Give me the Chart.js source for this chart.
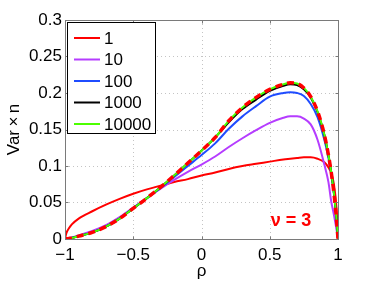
<!DOCTYPE html>
<html><head><meta charset="utf-8">
<script src="https://cdn.jsdelivr.net/npm/chart.js@4/dist/chart.umd.min.js"></script>
<style>html,body{margin:0;padding:0;background:#fff}#w{width:374px;height:281px}</style>
</head><body><div id="w"><canvas id="c" width="374" height="281"></canvas></div>
<script>
const rho = [-1,-0.99,-0.97,-0.95,-0.9,-0.8,-0.7,-0.6,-0.5,-0.4,-0.3,-0.2,-0.1,0,0.1,0.2,0.3,0.4,0.5,0.6,0.65,0.7,0.75,0.8,0.85,0.9,0.93,0.95,0.97,0.99,1];
const n1     = [0,0.008,0.015,0.02,0.028,0.038,0.047,0.055,0.062,0.068,0.073,0.078,0.082,0.087,0.091,0.096,0.1,0.103,0.106,0.109,0.11,0.111,0.112,0.112,0.11,0.105,0.098,0.09,0.075,0.04,0];
const n10    = [0,0.0004,0.001,0.002,0.005,0.011,0.019,0.03,0.043,0.056,0.069,0.081,0.092,0.102,0.113,0.126,0.138,0.149,0.159,0.166,0.168,0.168,0.165,0.157,0.136,0.102,0.078,0.052,0.033,0.012,0];
const n100   = [0,0.0002,0.0008,0.0016,0.004,0.009,0.017,0.028,0.042,0.056,0.07,0.085,0.1,0.115,0.131,0.151,0.168,0.182,0.195,0.2,0.201,0.2,0.196,0.185,0.167,0.136,0.111,0.09,0.062,0.025,0];
const n1000  = [0,0.0002,0.0008,0.0015,0.004,0.009,0.017,0.028,0.042,0.056,0.071,0.087,0.104,0.121,0.139,0.16,0.178,0.191,0.203,0.21,0.212,0.211,0.205,0.194,0.174,0.143,0.115,0.092,0.063,0.025,0];
const n10000 = [0,0.0002,0.0008,0.0015,0.004,0.009,0.017,0.028,0.042,0.056,0.071,0.087,0.104,0.121,0.139,0.162,0.18,0.194,0.205,0.212,0.214,0.213,0.207,0.195,0.175,0.143,0.115,0.092,0.063,0.025,0];
const theory = [0,0.0002,0.0008,0.0015,0.004,0.009,0.017,0.028,0.042,0.056,0.071,0.087,0.104,0.121,0.139,0.162,0.18,0.194,0.205,0.212,0.214,0.213,0.207,0.195,0.175,0.143,0.115,0.092,0.063,0.025,0];
const seriesLabels = ['1','10','100','1000','10000'];
const xTicks = [-1,-0.5,0,0.5,1];
const xTickLabels = ['\u22121','\u22120.5','0','0.5','1'];
const yTicks = [0,0.05,0.1,0.15,0.2,0.25,0.3];
const yTickLabels = ['0','0.05','0.1','0.15','0.2','0.25','0.3'];
const annotText = '\u03bd = 3';
const annotPos = [0.656, 0.025];

const FONT = '"Liberation Sans", Arial, Helvetica, sans-serif';
const pts = arr => rho.map((x,i)=>({x:x,y:arr[i]}));
const colors = ['#ff0000','#b53cff','#1f4cff','#000000','#4cff00'];
const vals = [n1,n10,n100,n1000,n10000];
const datasets = vals.map((v,i)=>({label:seriesLabels[i],data:pts(v),borderColor:colors[i],borderWidth:2,pointRadius:0,fill:false,cubicInterpolationMode:'monotone',order:5-i}));
datasets.push({label:'theory',data:pts(theory),borderColor:'#ff0000',borderWidth:3.5,borderDash:[7,5],pointRadius:0,fill:false,cubicInterpolationMode:'monotone',order:-1});

const deco = {
  id:'deco',
  beforeDatasetsDraw(chart){
    const {ctx,chartArea:a,scales:{x,y}} = chart;
    ctx.save();
    ctx.strokeStyle='#c4c4c4'; ctx.lineWidth=1; ctx.setLineDash([1,3]);
    xTicks.forEach(v=>{const px=Math.round(x.getPixelForValue(v))+0.5; ctx.beginPath();ctx.moveTo(px,a.top);ctx.lineTo(px,a.bottom);ctx.stroke();});
    yTicks.forEach(v=>{const py=Math.round(y.getPixelForValue(v))+0.5; ctx.beginPath();ctx.moveTo(a.left,py);ctx.lineTo(a.right,py);ctx.stroke();});
    ctx.restore();
  },
  afterDatasetsDraw(chart){
    const {ctx,chartArea:a,scales:{x,y}} = chart;
    ctx.save();
    // box
    ctx.strokeStyle='#7a7a7a'; ctx.lineWidth=1; ctx.setLineDash([]);
    const L=Math.round(a.left)+0.5,R=Math.round(a.right)+0.5,T=Math.round(a.top)+0.5,B=Math.round(a.bottom)+0.5;
    ctx.strokeRect(L,T,R-L,B-T);
    const tl=3;
    xTicks.forEach(v=>{const px=Math.round(x.getPixelForValue(v))+0.5;ctx.beginPath();ctx.moveTo(px,B);ctx.lineTo(px,B-tl);ctx.moveTo(px,T);ctx.lineTo(px,T+tl);ctx.stroke();});
    yTicks.forEach(v=>{const py=Math.round(y.getPixelForValue(v))+0.5;ctx.beginPath();ctx.moveTo(L,py);ctx.lineTo(L+tl,py);ctx.moveTo(R,py);ctx.lineTo(R-tl,py);ctx.stroke();});
    // annotation
    ctx.fillStyle='#ff0000'; ctx.font='bold 18px '+FONT; ctx.textAlign='center'; ctx.textBaseline='middle';
    ctx.fillText(annotText, x.getPixelForValue(annotPos[0]), y.getPixelForValue(annotPos[1]));
    // axis titles
    ctx.fillStyle='#000'; ctx.font='17px '+FONT;
    ctx.fillText('\u03c1', (a.left+a.right)/2, 271);
    ctx.translate(14,(a.top+a.bottom)/2); ctx.rotate(-Math.PI/2);
    ctx.fillText('Var\u2009\u00d7\u2009n',0,0);
    ctx.restore();
    // legend
    ctx.save();
    const lx=67.5, ly=22.5, lw=88, lh=111;
    ctx.fillStyle='#fff'; ctx.fillRect(lx,ly,lw,lh);
    ctx.strokeStyle='#000'; ctx.lineWidth=1; ctx.strokeRect(lx,ly,lw,lh);
    ctx.font='17px '+FONT; ctx.textAlign='left'; ctx.textBaseline='middle';
    for(let i=0;i<5;i++){
      const yy=38+i*21.5;
      ctx.strokeStyle=colors[i]; ctx.lineWidth=2;
      ctx.beginPath(); ctx.moveTo(74,yy); ctx.lineTo(100,yy); ctx.stroke();
      ctx.fillStyle='#000'; ctx.fillText(seriesLabels[i],104,yy+1);
    }
    ctx.restore();
  }
};

new Chart(document.getElementById('c'),{
  type:'line',
  data:{datasets},
  options:{
    responsive:false, animation:false, devicePixelRatio:1,
    layout:{padding:{top:20,right:36,left:0,bottom:0}},
    plugins:{legend:{display:false},tooltip:{enabled:false}},
    scales:{
      x:{type:'linear',min:-1,max:1,
        afterBuildTicks:s=>{s.ticks=xTicks.map(v=>({value:v}));},
        afterFit:s=>{s.height=42;},
        grid:{display:false,drawTicks:false},border:{display:false},
        ticks:{padding:6,color:'#000',font:{family:FONT,size:17},maxRotation:0,autoSkip:false,
          callback:(v)=>xTickLabels[xTicks.indexOf(v)]}},
      y:{type:'linear',min:0,max:0.3,
        afterBuildTicks:s=>{s.ticks=yTicks.map(v=>({value:v}));},
        afterFit:s=>{s.width=65;},
        grid:{display:false,drawTicks:false},border:{display:false},
        ticks:{padding:3,color:'#000',font:{family:FONT,size:17},autoSkip:false,
          callback:(v)=>yTickLabels[yTicks.findIndex(t=>Math.abs(t-v)<1e-9)]}}
    }
  },
  plugins:[deco]
});
</script></body></html>
